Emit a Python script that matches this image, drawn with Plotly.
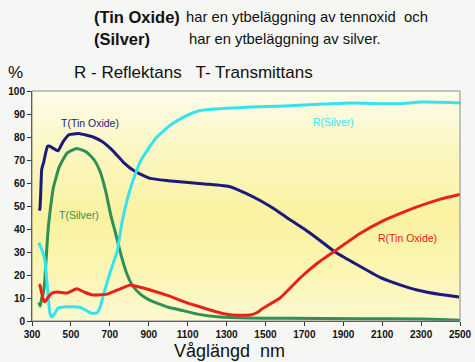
import plotly.graph_objects as go

# ---- data (wavelength nm, percent) ----
t_tin_nm = [338, 341, 345, 350, 360, 370, 380, 392, 410, 434, 460, 490, 540, 614, 660, 716, 770, 830, 907, 1000,
            1061, 1200, 1318, 1400, 1470, 1550, 1626, 1700, 1765, 1858, 1950, 2089, 2200, 2279, 2400, 2495]
t_tin_val = [48, 49, 56, 66, 69, 73, 76, 76, 75, 74, 78, 81, 81.5, 80, 78, 74, 69, 65, 62, 61,
             60.5, 59.5, 58.4, 55.5, 52.5, 48.5, 44, 40, 36, 30, 25.5, 19, 15.5, 13.5, 11.5, 10.4]

t_silver_nm = [335, 342, 350, 358, 366, 374, 383, 392, 410, 440, 480, 530, 580, 620, 650, 680, 705, 730, 760,
               790, 820, 860, 907, 1000, 1061, 1150, 1266, 1400, 1600, 2000, 2300, 2400, 2500]
t_silver_val = [8, 6.5, 10, 12, 18, 29, 40, 47, 58, 67, 73, 75, 73.5, 70, 65, 56, 46, 38, 28,
                20, 15, 11.5, 9, 6, 4.8, 3, 1.7, 1.3, 1.2, 1.0, 0.9, 0.7, 0.3]

r_silver_nm = [333, 341, 355, 367, 380, 392, 402, 415, 434, 480, 547, 580, 600, 634, 650, 666, 701, 737, 763,
               790, 819, 855, 907, 942, 1009, 1045, 1100, 1164, 1300, 1421, 1600, 1800, 1935, 2100, 2192, 2300,
               2449, 2500]
r_silver_val = [34, 33, 30, 26, 14, 3.5, 1.7, 3, 5.6, 6.2, 6, 4.5, 3.5, 3.5, 6, 11, 21, 30, 43,
                53, 61, 69, 76, 80, 85, 87, 89.5, 91.5, 92.5, 93, 93.5, 94.3, 94.8, 94.5, 94.5, 95.2,
                95, 94.8]

r_tin_nm = [336, 341, 350, 360, 367, 380, 400, 428, 480, 531, 570, 614, 686, 740, 804, 850, 907, 1000, 1061,
            1150, 1215, 1280, 1333, 1421, 1460, 1488, 1575, 1678, 1765, 1858, 1986, 2104, 2200, 2279, 2400, 2500]
r_tin_val = [16, 15.5, 12, 9, 8.3, 10, 12, 12.6, 12.2, 14, 12.5, 11.3, 11.7, 13.5, 15.6, 14.8, 13.5, 11, 9,
             6.5, 4.8, 3.3, 2.6, 2.6, 3.8, 5.6, 10, 18.7, 25, 30.5, 38, 43.5, 47, 49.6, 53, 55]

x_ticks = list(range(300, 2501, 200))
y_ticks = list(range(0, 101, 10))

series = [
    ("T(Tin Oxide)", t_tin_nm, t_tin_val, "#1c1a7a"),
    ("T(Silver)", t_silver_nm, t_silver_val, "#2f8f55"),
    ("R(Silver)", r_silver_nm, r_silver_val, "#35e3f0"),
    ("R(Tin Oxide)", r_tin_nm, r_tin_val, "#e8221a"),
]

labels = [
    ("T(Tin Oxide)", 598, 86, "#1c1a7a"),
    ("T(Silver)", 542, 46, "#2f8f55"),
    ("R(Silver)", 1850, 86.5, "#35e3f0"),
    ("R(Tin Oxide)", 2228, 36, "#e8221a"),
]

fig = go.Figure()
for name, xs, ys, col in series:
    fig.add_trace(go.Scatter(x=xs, y=ys, mode="lines", name=name,
                             line=dict(color=col, width=3, shape="spline", smoothing=0.4),
                             showlegend=False, hoverinfo="skip"))

# background gradient inside plot area
stops = [(0.0, (252, 248, 206)), (0.25, (251, 245, 176)), (0.45, (250, 242, 160)),
         (0.7, (251, 246, 190)), (1.0, (253, 252, 232))]
shapes = []
n = 40
for i in range(n):
    f = (i + 0.5) / n
    for j in range(len(stops) - 1):
        if stops[j][0] <= f <= stops[j + 1][0]:
            a, ca = stops[j]
            b, cb = stops[j + 1]
            t = (f - a) / (b - a)
            c = tuple(int(round(ca[k] + (cb[k] - ca[k]) * t)) for k in range(3))
            break
    shapes.append(dict(type="rect", xref="paper", yref="paper", x0=0, x1=1,
                       y0=i / n, y1=(i + 1) / n + 0.002, line=dict(width=0),
                       fillcolor="rgb(%d,%d,%d)" % c, layer="below"))
shapes.append(dict(type="rect", xref="paper", yref="paper", x0=0, x1=1, y0=0, y1=1,
                   line=dict(color="#8a8a8a", width=1), layer="above"))

annotations = []
for txt, x, y, col in labels:
    annotations.append(dict(x=x, y=y, xref="x", yref="y", text=txt, showarrow=False,
                            font=dict(family="Liberation Sans Narrow, Arial Narrow, Liberation Sans",
                                      size=10.5, color=col)))

W, H = 475, 362
ML, MR, MT, MB = 32, 15, 91, 41
pw, ph = W - ML - MR, H - MT - MB
def px2paper(x, y):
    return (x - ML) / pw, (H - MB - y) / ph

hdr_font = "Liberation Sans, Arial"
hdr = [
    ("<b>(Tin Oxide)</b>", 92, 17, 16.5),
    ("har en ytbeläggning av tennoxid  och", 184, 17, 14.8),
    ("<b>(Silver)</b>", 92, 39, 16.5),
    ("har en ytbeläggning av silver.", 187, 39, 14.8),
    ("%", 6, 72, 17),
    ("R - Reflektans   T- Transmittans", 72, 72, 17),
    ("Våglängd  nm", 172, 351, 18),
]
for txt, x, y, size in hdr:
    px, py = px2paper(x, y)
    annotations.append(dict(x=px, y=py, xref="paper", yref="paper", text=txt, showarrow=False,
                            xanchor="left", yanchor="middle",
                            font=dict(family=hdr_font, size=size, color="#111111")))

fig.update_layout(
    width=W, height=H,
    margin=dict(l=ML, r=MR, t=MT, b=MB, pad=0, autoexpand=False),
    paper_bgcolor="#f6f6f4",
    plot_bgcolor="#fbf5b8",
    shapes=shapes,
    annotations=annotations,
    xaxis=dict(range=[300, 2500], tickvals=x_ticks, ticktext=[str(v) for v in x_ticks],
               automargin=False,
               showgrid=False, zeroline=False, showline=True, linecolor="#333333", linewidth=1,
               ticks="outside", ticklen=4, tickcolor="#333333",
               tickfont=dict(family="Liberation Sans, Arial", size=10, color="#111111", weight="bold")),
    yaxis=dict(range=[0, 100], tickvals=y_ticks, showgrid=False, zeroline=False, showline=True,
               automargin=False,
               linecolor="#333333", linewidth=1, ticks="outside", ticklen=4, tickcolor="#333333",
               tickfont=dict(family="Liberation Sans, Arial", size=10, color="#111111", weight="bold")),
)

fig.write_html("out.html", config={"displayModeBar": False},
               post_script="document.body.style.margin='0';document.body.style.background='#f6f6f4';")
